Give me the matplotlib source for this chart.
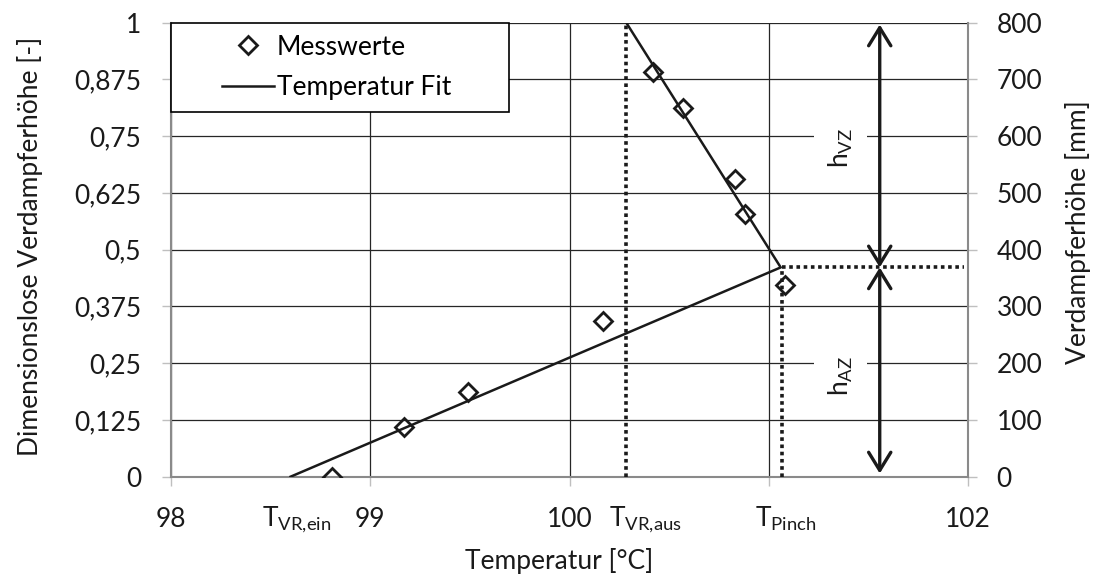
import numpy as np
import matplotlib
matplotlib.use("Agg")
import matplotlib.pyplot as plt
from matplotlib.lines import Line2D
from matplotlib.legend_handler import HandlerLine2D
from matplotlib.transforms import blended_transform_factory

plt.rcParams['font.family'] = ['Lato', 'DejaVu Sans']
plt.rcParams['mathtext.fontset'] = 'custom'
plt.rcParams['mathtext.rm'] = 'Lato'
plt.rcParams['mathtext.it'] = 'Lato:italic'
plt.rcParams['mathtext.bf'] = 'Lato:bold'

# Measured temperatures [°C] and sensor heights [mm]
T_mess = [98.81, 99.17, 99.49, 100.17, 101.08, 100.88, 100.83, 100.57, 100.42]
h_mess_mm = [0, 88, 150, 275, 338, 463, 525, 650, 713]
H_total_mm = 800

# Piecewise linear temperature fit (dimensionless height)
T_fit = [98.60, 101.06, 100.285]
h_fit = [0.0, 0.461, 1.0]

# Characteristic temperatures
T_vr_ein = 98.60
T_vr_aus = 100.285
T_pinch = 101.065
h_pinch = 0.461

x_ticks = [98, 99, 100, 101, 102]
x_ticklabels = ['98', '99', '100', '', '102']
y_ticks = [0, 0.125, 0.25, 0.375, 0.5, 0.625, 0.75, 0.875, 1.0]
y2_ticks = [0, 100, 200, 300, 400, 500, 600, 700, 800]

FS = 19
INK = '#1a1a1a'
SPINE = '#8a8a8a'
TICK = '#bfbfbf'

h_mess = [h / H_total_mm for h in h_mess_mm]

fig = plt.figure(figsize=(11.01, 5.78), dpi=100)
W, H = 1101, 578
ax = fig.add_axes([171 / W, 1 - 476.7 / H, (968 - 171) / W, (476.7 - 22.7) / H])
ax.set_xlim(98, 102)
ax.set_ylim(0, 1)

ax.set_xticks(x_ticks)
ax.set_xticklabels(x_ticklabels)
ax.set_yticks(y_ticks)
ax.set_yticklabels([f"{v:g}".replace('.', ',') for v in y_ticks])
ax.tick_params(axis='both', which='major', labelsize=FS, length=6.5, width=1.0,
               color=TICK, labelcolor=INK, pad=15, direction='out')
ax.grid(True, color='#262626', lw=0.9)
ax.set_axisbelow(True)
for side in ['top', 'right']:
    ax.spines[side].set_visible(False)
for side in ['left', 'bottom']:
    ax.spines[side].set_color(SPINE)
    ax.spines[side].set_linewidth(1.5)

ax2 = ax.twinx()
ax2.set_ylim(0, H_total_mm)
ax2.set_yticks(y2_ticks)
ax2.tick_params(axis='y', labelsize=FS, length=6.5, width=1.0, color=TICK,
                labelcolor=INK, pad=14)
for side in ['top', 'left', 'bottom']:
    ax2.spines[side].set_visible(False)
ax2.spines['right'].set_color(SPINE)
ax2.spines['right'].set_linewidth(1.5)

# Dotted guide lines
dot = dict(color=INK, lw=2.6, linestyle=(0, (1, 1)), dash_capstyle='butt', zorder=3)
ax.plot([T_vr_aus, T_vr_aus], [0, 1], **dot)
ax.plot([T_pinch, T_pinch], [0, h_pinch], **dot)
ax.plot([T_pinch, 101.98], [h_pinch, h_pinch], **dot)

# Fit and measurements
fit_line, = ax.plot(T_fit, h_fit, color=INK, lw=1.8, zorder=4, label='Temperatur Fit')
mess, = ax.plot(T_mess, h_mess, linestyle='none', marker='D', ms=9.2, mfc='none',
                mec=INK, mew=2.0, zorder=5, label='Messwerte')

# Zone height arrows
x_arr = 101.557
arrow_kw = dict(arrowstyle='<->,head_length=13,head_width=8', lw=2.4, color=INK,
                shrinkA=0, shrinkB=0, mutation_scale=1)
ax.annotate('', xy=(x_arr, 0.996), xytext=(x_arr, h_pinch), arrowprops=arrow_kw, zorder=6)
ax.annotate('', xy=(x_arr, 0.007), xytext=(x_arr, h_pinch), arrowprops=arrow_kw, zorder=6)

box = dict(facecolor='white', edgecolor='none', pad=9)
ax.text(101.362, 0.725, r'$\mathrm{h_{VZ}}$', rotation=90, ha='center', va='center',
        fontsize=FS, color=INK, bbox=box, zorder=3.5)
ax.text(101.362, 0.222, r'$\mathrm{h_{AZ}}$', rotation=90, ha='center', va='center',
        fontsize=FS, color=INK, bbox=box, zorder=3.5)

# Temperature labels beneath the axis
trans = blended_transform_factory(ax.transData, ax.transAxes)
for x, lab in [(98.632, r'$\mathrm{T_{VR{,}ein}}$'), (100.383, r'$\mathrm{T_{VR{,}aus}}$'),
               (101.083, r'$\mathrm{T_{Pinch}}$')]:
    ax.annotate(lab, xy=(x, 0), xycoords=trans, xytext=(0, -20.5),
                textcoords='offset points', ha='center', va='top', fontsize=FS, color=INK)

# Legend
leg = ax.legend(handles=[mess, fit_line], loc='upper left', bbox_to_anchor=(0, 1, 0.424, 0),
                mode='expand', borderaxespad=0, fontsize=FS, frameon=True, fancybox=False,
                framealpha=1, edgecolor='black', borderpad=0.45, labelspacing=0.6,
                handlelength=3.45, handletextpad=0.1,
                handler_map={Line2D: HandlerLine2D(xpad=1.5)})
leg.get_frame().set_linewidth(1.2)
leg.set_zorder(10)

fig.text(30 / W, 1 - 246 / H, 'Dimensionslose Verdampferhöhe [-]', rotation=90,
         ha='center', va='center', fontsize=FS, color=INK)
fig.text(1078 / W, 1 - 232 / H, 'Verdampferhöhe [mm]', rotation=90,
         ha='center', va='center', fontsize=FS, color=INK)
fig.text(559 / W, 1 - 561 / H, 'Temperatur [°C]', ha='center', va='center',
         fontsize=FS, color=INK)

fig.savefig('out.png', dpi=100)
